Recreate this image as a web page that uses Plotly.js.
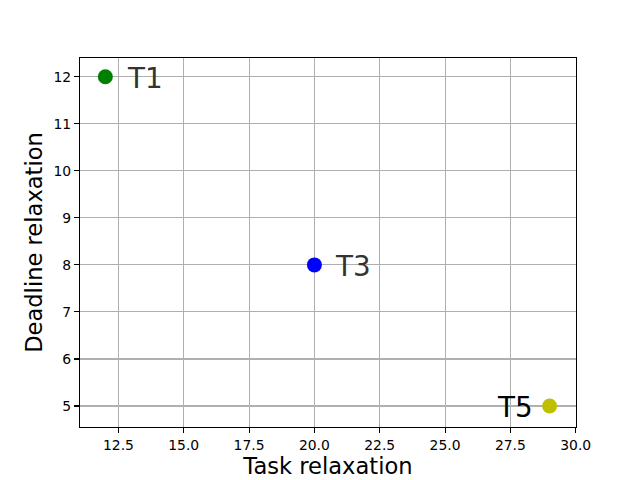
<!DOCTYPE html>
<html>
<head>
<meta charset="utf-8">
<script src="https://cdn.plot.ly/plotly-3.0.1.min.js"></script>
<style>html,body{margin:0;padding:0;background:#fff;}</style>
</head>
<body>
<div id="chart" style="width:640px;height:480px;"></div>
<script>
const taskRelaxation = [12, 20, 29];
const deadlineRelaxation = [12, 8, 5];
const labels = ["T1", "T3", "T5"];
const colors = ["#008000", "#0000ff", "#bfbf00"];
const labelColors = ["#333333", "#333333", "#000000"];
const xTicks = [12.5, 15.0, 17.5, 20.0, 22.5, 25.0, 27.5, 30.0];
const yTicks = [5, 6, 7, 8, 9, 10, 11, 12];

const font = "DejaVu Sans, sans-serif";

const trace = {
  x: taskRelaxation,
  y: deadlineRelaxation,
  mode: "markers",
  type: "scatter",
  marker: {color: colors, size: 15, line: {width: 0}},
  hoverinfo: "none",
  showlegend: false
};

const labelShift = [20, 19, -55];
const annotations = labels.map((t, i) => ({
  x: taskRelaxation[i],
  y: deadlineRelaxation[i],
  xref: "x", yref: "y",
  text: t,
  showarrow: false,
  xanchor: "left",
  yanchor: "middle",
  xshift: labelShift[i],
  yshift: -2,
  font: {family: font, size: 27.8, color: labelColors[i]}
}));

const axisCommon = {
  showgrid: true,
  gridcolor: "#b0b0b0",
  gridwidth: 1.1,
  zeroline: false,
  showline: true,
  linecolor: "#000000",
  linewidth: 1.1,
  mirror: true,
  ticks: "outside",
  ticklen: 5,
  tickwidth: 1.1,
  tickcolor: "#000000",
  tickfont: {family: font, size: 13.9, color: "#000000"}
};

const layout = {
  width: 640, height: 480,
  margin: {l: 80, r: 64, t: 58, b: 53},
  paper_bgcolor: "#ffffff",
  plot_bgcolor: "#ffffff",
  xaxis: Object.assign({}, axisCommon, {
    range: [11.03, 30.01],
    tickmode: "array",
    tickvals: xTicks,
    ticktext: xTicks.map(v => v.toFixed(1)),
    title: {text: "Task relaxation", font: {family: font, size: 22.6, color: "#000000"}, standoff: 5}
  }),
  yaxis: Object.assign({}, axisCommon, {
    range: [4.553, 12.40],
    tickmode: "array",
    tickvals: yTicks,
    ticktext: yTicks.map(v => String(v)),
    title: {text: "Deadline relaxation", font: {family: font, size: 22.6, color: "#000000"}, standoff: 4}
  }),
  annotations: annotations
};

Plotly.newPlot("chart", [trace], layout, {staticPlot: true, displayModeBar: false});
</script>
</body>
</html>
